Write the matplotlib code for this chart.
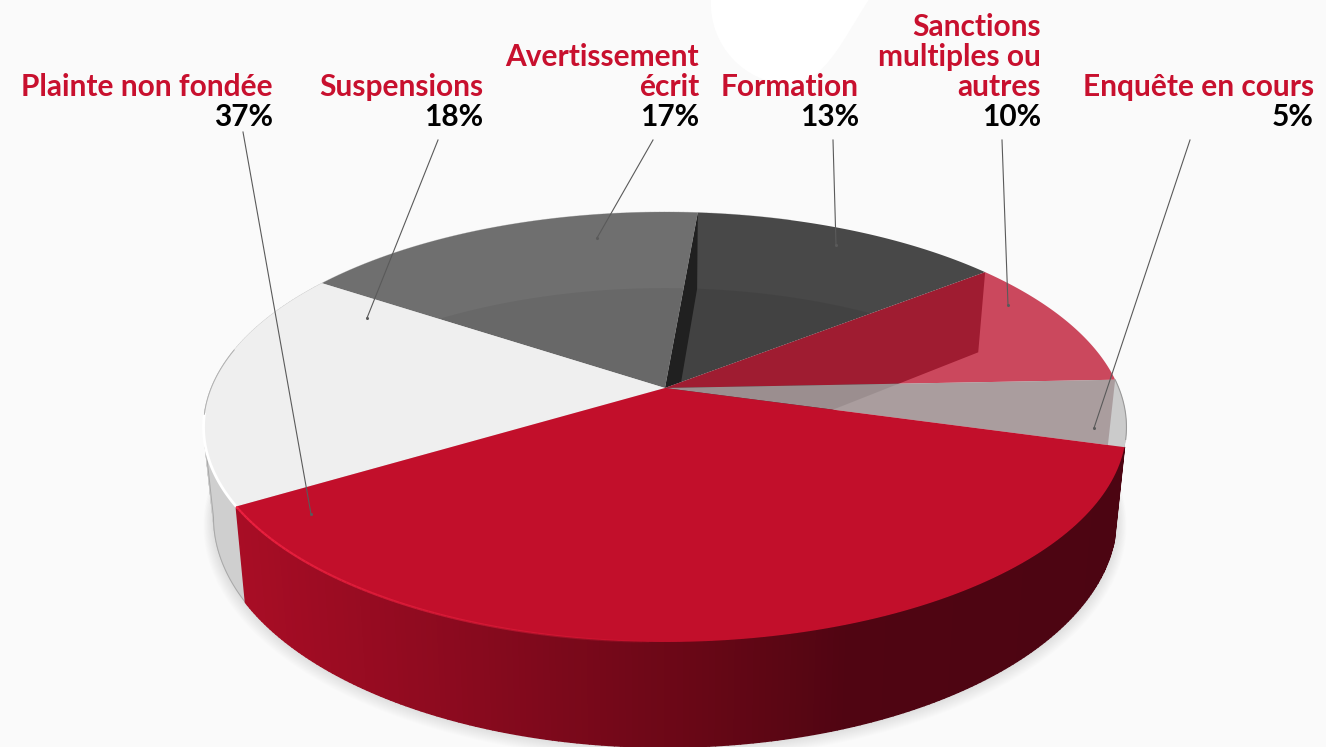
import numpy as np
import matplotlib
matplotlib.use("Agg")
import matplotlib.pyplot as plt
from matplotlib.patches import Polygon, PathPatch
from matplotlib.path import Path
from matplotlib.collections import PolyCollection, LineCollection
from matplotlib.colors import to_rgb

categories = ["Plainte non fondée", "Suspensions", "Avertissement\nécrit", "Formation",
              "Sanctions\nmultiples ou\nautres", "Enquête en cours"]
values = [37, 18, 17, 13, 10, 5]
label_right = [273, 483, 699, 859, 1041, 1314]
leader_from = [(243, 132), (438, 140), (653, 140), (833, 140), (1002, 140), (1190, 140)]
leader_to = [(311, 514), (367, 318), (597, 238), (836, 245), (1008, 305), (1094, 428)]

FONT = ["Lato", "Roboto", "DejaVu Sans"]
BG = "#fafafa"
RED = "#c20f2b"
TXT_RED = "#c8102e"

fig = plt.figure(figsize=(13.26, 7.47), dpi=100, facecolor=BG)
ax = fig.add_axes([0, 0, 1, 1])
ax.set_xlim(0, 1326)
ax.set_ylim(747, 0)
ax.axis("off")

# perspective model of the disc
CX, K = 665.0, 0.1814
TOP = dict(cy=388.0, a=453.8, b=207.9)
BOT = dict(cy=476.0, a=444.0, b=222.0)
START = -15.7


def rim(theta, m):
    t = np.radians(np.asarray(theta, dtype=float))
    u, v = np.cos(t), np.sin(t)
    w = 1 + K * v
    return np.column_stack([CX + m["a"] * u / w, m["cy"] - m["b"] * v / w])


def arc(t1, t2, m, n=120):
    return rim(np.linspace(t1, t2, n), m)


def apex(m):
    return np.array([[CX, m["cy"]]])


def wedge(t1, t2, m=TOP):
    return np.vstack([apex(m), arc(t1, t2, m)])


def add(pts, color, alpha=None, z=2, **kw):
    p = Polygon(pts, closed=True, facecolor=color, edgecolor="none", alpha=alpha, zorder=z, **kw)
    ax.add_patch(p)
    return p


bounds = START - np.concatenate([[0], np.cumsum(values)]) / sum(values) * 360.0
plainte = (bounds[0], bounds[1])
susp = (bounds[1], bounds[2])
avert = (bounds[2], bounds[3])
form = (bounds[3], bounds[4])
sanc = (bounds[4], bounds[5])
enq = (bounds[5], bounds[6])

# white shape behind the labels
blob = Path(
    [(711, -2), (708, 45), (745, 84), (790, 84), (825, 84), (845, 35), (870, -2), (711, -2)],
    [Path.MOVETO, Path.CURVE4, Path.CURVE4, Path.CURVE4, Path.CURVE4, Path.CURVE4, Path.CURVE4, Path.CLOSEPOLY],
)
ax.add_patch(PathPatch(blob, facecolor="#ffffff", edgecolor="none", zorder=1))

# soft shadow
ring = np.linspace(0, 360, 361)
for i in range(1, 15):
    g = 1 + 0.0016 * i
    sm = dict(cy=BOT["cy"] + 0.5 * i, a=BOT["a"] * g, b=BOT["b"] * g)
    add(rim(ring, sm), "#000000", alpha=0.009, z=1.5)


def strip(t1, t2, n):
    th = np.linspace(t1, t2, n)
    tr, br = rim(th, TOP), rim(th, BOT)
    return [np.array([tr[i], tr[i + 1], br[i + 1], br[i]]) for i in range(n - 1)]


# body silhouette in light grey, closed along the tangent on the left
scan = np.linspace(plainte[1], plainte[1] - 80, 400)
t_left = scan[np.argmin(rim(scan, TOP)[:, 0])]
b_left = scan[np.argmin(rim(scan, BOT)[:, 0])]
grey_q = strip(plainte[1], plainte[1] - 140, 200)
ax.add_collection(PolyCollection(grey_q, facecolors="#cfcfcf", edgecolors="#cfcfcf", linewidths=0.6, zorder=2))
add(np.vstack([rim([t_left], TOP), rim([b_left], BOT), apex(BOT)]), "#cfcfcf", z=2)
edge = np.vstack([arc(plainte[1], b_left, BOT, n=60), rim([t_left], TOP)])
ax.plot(*edge.T, color="#a8a8a8", lw=0.7, zorder=2.1)

# red side with its gradient, left to right
grad_x = [245, 480, 700, 850, 1124]
grad_c = ["#a80d25", "#880a1e", "#680716", "#500512", "#4c0512"]
grad_rgb = np.array([to_rgb(c) for c in grad_c])
quads = strip(plainte[1], plainte[0], 200)
mx = [q[:, 0].mean() for q in quads]
cols = np.column_stack([np.interp(mx, grad_x, grad_rgb[:, j]) for j in range(3)])
ax.add_collection(PolyCollection(quads, facecolors=cols, edgecolors=cols, linewidths=1.1, zorder=2.2))

# grey slices
add(wedge(*form), "#484848", z=3)
fill = Polygon(rim(ring, BOT), closed=True, facecolor="#000000", alpha=0.07, edgecolor="none", zorder=3.1)
ax.add_patch(fill)
fill.set_clip_path(Polygon(wedge(*form), transform=ax.transData))

# inner wall between Avertissement and Formation
wall_pts = np.vstack([apex(TOP), rim([avert[1]], TOP), rim([avert[1]], BOT), apex(BOT)])
wall = add(wall_pts, "#202020", z=3.2)
wall.set_clip_path(Polygon(wedge(*form), transform=ax.transData))

add(wedge(*avert), "#6f6f6f", z=3.3)
fill2 = Polygon(rim(ring, BOT), closed=True, facecolor="#000000", alpha=0.06, edgecolor="none", zorder=3.4)
ax.add_patch(fill2)
fill2.set_clip_path(Polygon(wedge(*avert), transform=ax.transData))

add(wedge(*susp), "#efefef", z=3.5)

# translucent slices, with the wall seen through them
add(wedge(sanc[0], enq[1]), "#efefef", z=3.6)
add(np.vstack([apex(TOP), rim([sanc[0]], TOP), rim([sanc[0]], BOT), apex(BOT)]), "#404040", z=3.7)
add(wedge(*sanc), "#c0102c", alpha=0.75, z=3.8)
add(wedge(*enq), "#a49697", alpha=0.92, z=3.9)
add(np.vstack([arc(enq[0], enq[1], TOP), rim([enq[0]], BOT)]), "#cbcbcb", z=4)
ax.plot(*arc(enq[0], enq[1] + 2, TOP).T, color="#9a9a9a", lw=0.8, zorder=4.05)

# red top
add(wedge(*plainte), RED, z=4.2)

# rim highlights
ax.plot(*arc(plainte[1], plainte[1] - 24, TOP).T, color="#ffffff", lw=2.0, zorder=4.1)
ax.plot(*arc(plainte[1] - 24, plainte[1] - 42, TOP).T, color="#b0b0b0", lw=0.7, zorder=4.1)
hl = arc(plainte[1], plainte[1] + 58, TOP, n=80)
segs = [hl[i:i + 2] for i in range(len(hl) - 1)]
ha = np.linspace(1, 0, len(segs)) ** 0.6
hc = np.column_stack([np.full(len(segs), 0.93), np.full(len(segs), 0.13), np.full(len(segs), 0.25), ha])
ax.add_collection(LineCollection(segs, colors=hc, linewidths=1.6, zorder=4.3))

# leaders
for (x0, y0), (x1, y1) in zip(leader_from, leader_to):
    ax.plot([x0, x1], [y0, y1], color="#5a5a5a", lw=0.8, zorder=5)
    ax.plot([x1], [y1], "o", ms=2.2, color="#5a5a5a", mew=0, zorder=5)

# labels
for name, val, xr in zip(categories, values, label_right):
    ax.text(xr, 126, f"{val}%", ha="right", va="baseline", color="#000000",
            family=FONT, fontweight="bold", fontsize=21.5, zorder=6)
    for i, line in enumerate(reversed(name.split("\n"))):
        ax.text(xr, 96 - 30 * i, line, ha="right", va="baseline", color=TXT_RED,
                family=FONT, fontweight="bold", fontsize=21.5, zorder=6)

fig.savefig("out.png", dpi=100, facecolor=BG)
